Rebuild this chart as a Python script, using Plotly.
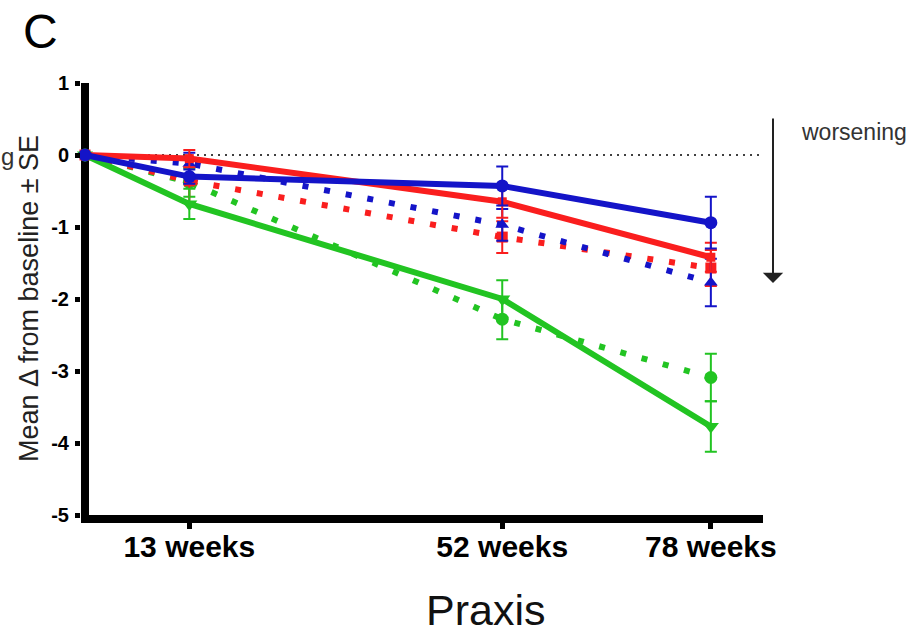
import plotly.graph_objects as go

# ---- data ----
weeks = [0, 13, 52, 78]
x_tick_vals = [13, 52, 78]
x_tick_text = ["13 weeks", "52 weeks", "78 weeks"]
y_tick_vals = [1, 0, -1, -2, -3, -4, -5]
y_tick_text = ["1", "0", "-1", "-2", "-3", "-4", "-5"]

blue_solid = [0, -0.30, -0.43, -0.94]
blue_solid_se = [0, 0.10, 0.27, 0.36]
red_solid = [0, -0.05, -0.65, -1.42]
red_solid_se = [0, 0.12, 0.22, 0.20]
green_solid = [0, -0.68, -2.00, -3.77]
green_solid_se = [0, 0.21, 0.26, 0.35]

blue_dot = [0, -0.12, -0.97, -1.77]
blue_dot_se = [0, 0.15, 0.22, 0.33]
red_dot = [0, -0.36, -1.14, -1.57]
red_dot_se = [0, 0.30, 0.22, 0.25]
green_dot = [0, -0.38, -2.28, -3.09]
green_dot_se = [0, 0.20, 0.28, 0.33]

BLUE = "#1414c8"
RED = "#fa1e1e"
GREEN = "#22c422"
FONT = "Liberation Sans, Arial, sans-serif"

W, H = 910, 641
ML, MR, MT, MB = 81, 147, 83, 126
PW, PH = W - ML - MR, H - MT - MB


def px_x(p):
    return (p - ML) / PW


def px_y(p):
    return (H - MB - p) / PH


fig = go.Figure()


def add(y, se, color, dash, symbol, size):
    fig.add_trace(go.Scatter(
        x=weeks, y=y, mode="lines+markers",
        line=dict(color=color, width=6, dash=dash),
        marker=dict(symbol=symbol, size=size, color=color),
        error_y=dict(type="data", array=se, visible=True, color=color,
                     thickness=2, width=6),
        cliponaxis=False, showlegend=False,
    ))


add(green_dot, green_dot_se, GREEN, "6px,16px", "circle", 13)
add(red_dot, red_dot_se, RED, "6px,16px", "square", 11)
add(blue_dot, blue_dot_se, BLUE, "6px,16px", "triangle-up", 12)
add(green_solid, green_solid_se, GREEN, "solid", "triangle-down", 14)
add(red_solid, red_solid_se, RED, "solid", "square", 9)
add(blue_solid, blue_solid_se, BLUE, "solid", "circle", 13)

# dotted reference line at zero
fig.add_shape(type="line", xref="x", yref="y", x0=0, x1=84.5, y0=0, y1=0,
              line=dict(color="black", width=1.5, dash="2px,5px"), layer="below")

ann = []
ann.append(dict(text="C", xref="paper", yref="paper", x=px_x(21), y=px_y(32),
                xanchor="left", yanchor="middle", showarrow=False,
                font=dict(family=FONT, size=48, color="black")))
ann.append(dict(text="Mean Δ from baseline ± SE", xref="paper", yref="paper",
                x=px_x(29), y=px_y(299), xanchor="center", yanchor="middle",
                textangle=-90, showarrow=False,
                font=dict(family=FONT, size=27, color="#222")))
ann.append(dict(text="Praxis", xref="paper", yref="paper", x=px_x(485), y=px_y(610),
                xanchor="center", yanchor="middle", showarrow=False,
                font=dict(family=FONT, size=43, color="#111")))
ann.append(dict(text="worsening", xref="paper", yref="paper", x=px_x(799), y=px_y(132),
                xanchor="left", yanchor="middle", showarrow=False,
                font=dict(family=FONT, size=23, color="#333")))
ann.append(dict(text="g", xref="paper", yref="paper", x=px_x(-1), y=px_y(156),
                xanchor="left", yanchor="middle", showarrow=False,
                font=dict(family=FONT, size=24, color="#333")))
ann.append(dict(text="", xref="paper", yref="paper", x=px_x(773), y=px_y(283),
                ax=0, ay=-166, showarrow=True, arrowhead=1, arrowsize=1.7,
                arrowwidth=2, arrowcolor="#222"))

fig.update_layout(
    width=W, height=H,
    margin=dict(l=ML, r=MR, t=MT, b=MB),
    paper_bgcolor="white", plot_bgcolor="white",
    annotations=ann,
    xaxis=dict(range=[-0.5, 84.5], tickvals=x_tick_vals, ticktext=x_tick_text,
               ticks="outside", ticklen=6, tickwidth=5, tickcolor="black",
               showline=True, linewidth=8, linecolor="black",
               showgrid=False, zeroline=True, zerolinewidth=8, zerolinecolor="black",
               ticklabelstandoff=-8,
               tickfont=dict(family=FONT, size=30, color="black", weight="bold")),
    yaxis=dict(range=[-5, 1], tickvals=y_tick_vals, ticktext=y_tick_text,
               ticks="outside", ticklen=5, tickwidth=5, tickcolor="black",
               showline=False, showgrid=False, zeroline=False,
               ticklabelstandoff=2,
               tickfont=dict(family=FONT, size=20, color="black", weight="bold")),
)

fig.write_html("out.html",
               config={"displayModeBar": False},
               post_script="document.body.style.margin='0px';document.body.style.padding='0px';")
